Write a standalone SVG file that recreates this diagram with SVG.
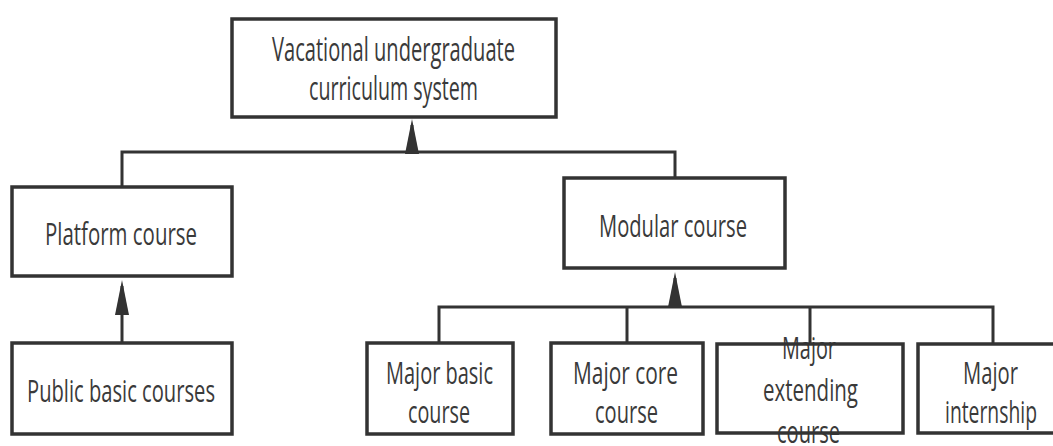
<svg xmlns="http://www.w3.org/2000/svg" width="1053" height="446" viewBox="0 0 1053 446">
  <style>
    .box { fill: none; stroke: #333; stroke-width: 3.5; }
    .ln { fill: none; stroke: #333; stroke-width: 3; }
    .t { font-family: "Open Sans", "Noto Sans", sans-serif; font-size: 31px; fill: #3a3a3a; }
    .tt { font-size: 32px; }
  </style>
  <defs>
    <marker id="arr" viewBox="0 0 35 14" refX="29" refY="7" markerWidth="35" markerHeight="14" markerUnits="userSpaceOnUse" orient="auto">
      <path d="M0,0 L35,7 L0,14 z" fill="#333"/>
    </marker>
  </defs>
  <rect width="1053" height="446" fill="#fff"/>
  <g id="connectors">
    <path class="ln" d="M122,187 V152 H675 V178"/>
    <line class="ln" x1="412" y1="152" x2="412" y2="125" marker-end="url(#arr)"/>
    <line class="ln" x1="122" y1="343" x2="122" y2="286" marker-end="url(#arr)"/>
    <path class="ln" d="M439,343 V307 H993 V343"/>
    <line class="ln" x1="627" y1="307" x2="627" y2="343"/>
    <line class="ln" x1="810" y1="307" x2="810" y2="343"/>
    <line class="ln" x1="675" y1="307" x2="675" y2="278" marker-end="url(#arr)"/>
  </g>
  <g id="root">
    <rect class="box" x="232" y="19" width="324" height="98"/>
    <text class="t tt" x="272" y="61" textLength="243" lengthAdjust="spacingAndGlyphs">Vacational undergraduate</text>
    <text class="t tt" x="309" y="100" textLength="169" lengthAdjust="spacingAndGlyphs">curriculum system</text>
  </g>
  <g id="platform">
    <rect class="box" x="12" y="187" width="220" height="89"/>
    <text class="t" x="45" y="245" textLength="152" lengthAdjust="spacingAndGlyphs">Platform course</text>
  </g>
  <g id="public">
    <rect class="box" x="12" y="343" width="220" height="91"/>
    <text class="t" x="27" y="402" textLength="188" lengthAdjust="spacingAndGlyphs">Public basic courses</text>
  </g>
  <g id="modular">
    <rect class="box" x="564" y="178" width="221" height="90"/>
    <text class="t" x="599" y="237" textLength="148" lengthAdjust="spacingAndGlyphs">Modular course</text>
  </g>
  <g id="major-basic">
    <rect class="box" x="367" y="343" width="146" height="91"/>
    <text class="t" x="386" y="384" textLength="107" lengthAdjust="spacingAndGlyphs">Major basic</text>
    <text class="t" x="408" y="423" textLength="62" lengthAdjust="spacingAndGlyphs">course</text>
  </g>
  <g id="major-core">
    <rect class="box" x="551" y="343" width="152" height="91"/>
    <text class="t" x="573" y="384" textLength="105" lengthAdjust="spacingAndGlyphs">Major core</text>
    <text class="t" x="595" y="423" textLength="63" lengthAdjust="spacingAndGlyphs">course</text>
  </g>
  <g id="major-extending">
    <text class="t" x="782" y="359" textLength="54" lengthAdjust="spacingAndGlyphs">Major</text>
    <text class="t" x="763" y="401" textLength="95" lengthAdjust="spacingAndGlyphs">extending</text>
    <text class="t" x="777" y="443" textLength="63" lengthAdjust="spacingAndGlyphs">course</text>
    <rect class="box" x="717" y="344" width="186" height="89"/>
  </g>
  <g id="major-internship">
    <rect class="box" x="918" y="344" width="150" height="89"/>
    <text class="t" x="963" y="384" textLength="55" lengthAdjust="spacingAndGlyphs">Major</text>
    <text class="t" x="945" y="423" textLength="92" lengthAdjust="spacingAndGlyphs">internship</text>
  </g>
</svg>
